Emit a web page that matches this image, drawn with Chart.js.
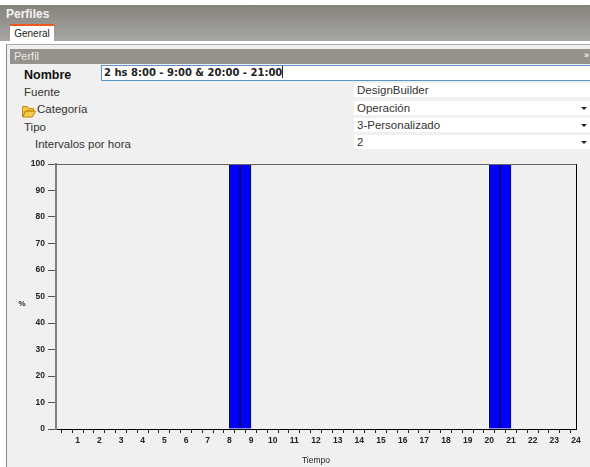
<!DOCTYPE html>
<html>
<head>
<meta charset="utf-8">
<script src="https://cdn.jsdelivr.net/npm/chart.js@4"></script>
<style>
html,body{margin:0;padding:0;background:#fff;}
body{width:590px;height:467px;overflow:hidden;position:relative;font-family:"Liberation Sans",Arial,sans-serif;color:#222;}
.a{position:absolute;white-space:nowrap;}
.row{position:absolute;left:354px;width:236px;height:14px;background:#fff;font-size:11.500px;line-height:14px;padding-left:3px;box-sizing:border-box;color:#333;}
.row i{position:absolute;right:3px;top:6px;border:3px solid transparent;border-top:3px solid #222;border-bottom:0;}
.lab{font-size:11.5px;color:#333;}
canvas{position:absolute;left:0;top:150px;}
</style>
</head>
<body>
<div class="a" style="left:0;top:5px;width:590px;height:36px;background:linear-gradient(#86827b,#a6a6a4);"></div>
<div class="a" style="left:6px;top:7px;font-size:12px;font-weight:bold;color:#f4f4f4;">Perfiles</div>
<div class="a" style="left:10px;top:24px;width:44px;height:17px;background:#fff;border-top:2px solid #f0571e;box-sizing:border-box;font-size:10px;line-height:15px;text-align:center;color:#222;">General</div>
<div class="a" style="left:6px;top:44px;width:584px;height:423px;background:#f0f0f0;border-left:1px solid #888;border-top:1px solid #aaa;box-sizing:border-box;"></div>
<div class="a" style="left:10px;top:49px;width:580px;height:15px;background:#96928b;color:#e8e8e8;font-size:11px;line-height:15px;padding-left:4px;box-sizing:border-box;">Perfil</div>
<div class="a" style="left:584px;top:50px;font-size:9px;font-weight:bold;color:#eee;">»</div>
<div class="a" style="left:24px;top:68px;font-size:12.5px;font-weight:bold;color:#111;">Nombre</div>
<div class="a" style="left:101px;top:65px;width:489px;height:16px;background:#fff;border:1px solid #5b93d0;border-right:0;box-sizing:border-box;font-family:'DejaVu Sans';font-weight:bold;font-size:10px;line-height:14px;padding-left:2px;color:#222;">2 hs 8:00 - 9:00 &amp; 20:00 - 21:00<span style="display:inline-block;width:1px;height:12px;background:#222;vertical-align:-2px;"></span></div>
<div class="a lab" style="left:24px;top:86px;">Fuente</div>
<svg class="a" style="left:22px;top:105px;" width="14" height="13"><path d="M0.5 12V1.500h5l1 2h5v2.500H3.500L0.500 12zM0.500 12l3-6h10l-3 6z" fill="#f7c948" stroke="#c08a10"/></svg>
<div class="a lab" style="left:37px;top:103px;">Categoría</div>
<div class="a lab" style="left:24px;top:121px;">Tipo</div>
<div class="a lab" style="left:35px;top:138px;">Intervalos por hora</div>
<div class="row" style="top:83px;">DesignBuilder</div>
<div class="row" style="top:101px;">Operación<i></i></div>
<div class="row" style="top:118px;">3-Personalizado<i></i></div>
<div class="row" style="top:135px;">2<i></i></div>
<canvas id="c" width="590" height="317"></canvas>
<script>
const intervalMidpoints = [0.25,0.75,1.25,1.75,2.25,2.75,3.25,3.75,4.25,4.75,5.25,5.75,6.25,6.75,7.25,7.75,8.25,8.75,9.25,9.75,10.25,10.75,11.25,11.75,12.25,12.75,13.25,13.75,14.25,14.75,15.25,15.75,16.25,16.75,17.25,17.75,18.25,18.75,19.25,19.75,20.25,20.75,21.25,21.75,22.25,22.75,23.25,23.75];
const percentValues = [0,0,0,0,0,0,0,0,0,0,0,0,0,0,0,0,100,100,0,0,0,0,0,0,0,0,0,0,0,0,0,0,0,0,0,0,0,0,0,0,100,100,0,0,0,0,0,0];
const xTitle = "Tiempo";
const yTitle = "%";
const tickFont = {family:"Liberation Sans", size:8.5, weight:"bold"};

const frame = {
  id:"frame",
  afterDatasetsDraw(chart){
    const {ctx, chartArea:a} = chart;
    ctx.save();
    ctx.strokeStyle="#666"; ctx.lineWidth=1;
    ctx.beginPath(); ctx.moveTo(a.left,a.top+0.5); ctx.lineTo(a.right,a.top+0.5); ctx.stroke();
    ctx.strokeStyle="#000";
    ctx.beginPath(); ctx.moveTo(a.right+0.5,a.top); ctx.lineTo(a.right+0.5,a.bottom); ctx.stroke();
    ctx.fillStyle="#222"; ctx.font='bold 8px "Liberation Sans"'; ctx.textAlign="center"; ctx.textBaseline="middle";
    ctx.fillText(yTitle, 22, (a.top+a.bottom)/2+7);
    ctx.restore();
  }
};

new Chart(document.getElementById("c"),{
  type:"bar",
  data:{
    datasets:[{
      data:intervalMidpoints.map((x,i)=>({x:x,y:percentValues[i]})),
      backgroundColor:c=>(c.raw && c.raw.y>0)?"#0000ff":"rgba(0,0,0,0)",
      borderColor:c=>(c.raw && c.raw.y>0)?"#101030":"rgba(0,0,0,0)",
      borderWidth:c=>(c.raw && c.raw.y>0)?1:0,
      barPercentage:1,
      categoryPercentage:1
    }]
  },
  options:{
    responsive:false,
    animation:false,
    layout:{padding:{left:0,right:14,top:14,bottom:0}},
    plugins:{legend:{display:false},tooltip:{enabled:false}},
    scales:{
      x:{
        type:"linear",min:0,max:24,offset:false,
        afterFit:s=>{s.height=38;},
        border:{color:"#000",width:1},
        grid:{drawOnChartArea:false,drawTicks:true,tickLength:4,tickColor:c=>c.tick && c.tick.value===0?"rgba(0,0,0,0)":"#222"},
        ticks:{stepSize:0.5,autoSkip:false,maxRotation:0,minRotation:0,padding:3,color:"#222",font:tickFont,
          callback:v=>(Number.isInteger(v)&&v>0)?String(v):""},
        title:{display:true,text:xTitle,color:"#222",font:{family:"Liberation Sans",size:8.5},padding:{top:0,bottom:1}}
      },
      y:{
        min:0,max:100,
        afterFit:s=>{s.width=56;},
        border:{color:"#808080",width:2},
        grid:{drawOnChartArea:false,drawTicks:true,tickLength:8,tickColor:"#555"},
        ticks:{stepSize:10,padding:3,color:"#222",font:tickFont}
      }
    }
  },
  plugins:[frame]
});
</script>
</body>
</html>
